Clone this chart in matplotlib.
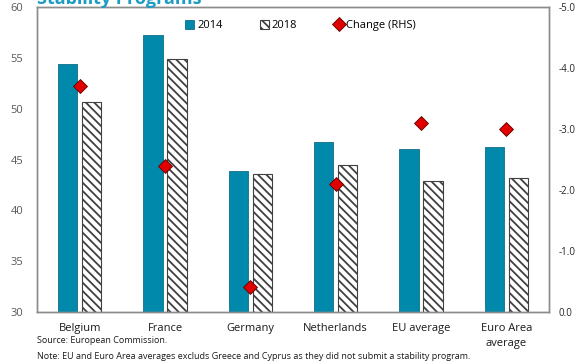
import numpy as np
import matplotlib.pyplot as plt

plt.rcParams['font.family'] = ['Open Sans', 'DejaVu Sans']
plt.rcParams['hatch.linewidth'] = 1.3

# Werte
laender = ["Belgium", "France", "Germany", "Netherlands", "EU average", "Euro Area\naverage"]
werte_2014 = [54.4, 57.3, 43.9, 46.7, 46.0, 46.2]
werte_2018 = [50.7, 54.9, 43.6, 44.5, 42.9, 43.2]
aenderung = [-3.7, -2.4, -0.4, -2.1, -3.1, -3.0]

teal = "#0089aa"
grau = "#595959"

fig = plt.figure(figsize=(5.81, 3.62), dpi=100)
ax = fig.add_axes([37 / 581, 1 - 311.7 / 362, 512 / 581, 304.4 / 362])
ax2 = ax.twinx()

x = np.arange(len(laender))
breite = 0.225

b1 = ax.bar(x - 0.14, werte_2014, breite, color=teal, edgecolor="#0f6f86", linewidth=0.6,
            label="2014", zorder=2)
b2 = ax.bar(x + 0.14, werte_2018, breite, color="white", edgecolor="#404040", hatch="\\\\\\\\",
            linewidth=0.8, label="2018", zorder=2)
d, = ax2.plot(x, aenderung, linestyle="none", marker="D", markersize=7.5, color="#e00000",
              markeredgecolor="#600000", markeredgewidth=0.6, label="Change (RHS)", zorder=3)

# linke Achse
ax.set_ylim(30, 60)
ax.set_yticks(np.arange(30, 61, 5))
ax.set_xlim(-0.5, len(laender) - 0.5)
ax.set_xticks(x)
ax.set_xticklabels(laender, fontsize=8, color="#1a1a1a", linespacing=1.5)
ax.tick_params(axis="y", length=0, labelsize=8, labelcolor=grau, pad=10)
ax.tick_params(axis="x", length=0, pad=8)

# rechte Achse (umgedreht)
ax2.set_ylim(0, -5)
ax2.set_yticks(np.arange(0, -5.1, -1))
ax2.set_yticklabels(["%.1f" % v for v in np.arange(0, -5.1, -1)])
ax2.tick_params(axis="y", length=0, labelsize=7, labelcolor="#262626", pad=7)

for a in (ax, ax2):
    for s in a.spines.values():
        s.set_color("#8c8c8c")
        s.set_linewidth(1.0)

ax.legend(handles=[b1, b2, d], loc="upper center", bbox_to_anchor=(0.515, 0.99), ncol=3, frameon=False,
          fontsize=8, handlelength=0.8, handleheight=0.8, handletextpad=0.3, columnspacing=3.3)

# Titel (oben abgeschnitten)
fig.text(37 / 581, 1 - 4 / 362, "Stability Programs", fontsize=13, fontweight="bold", color="#1b9cc2",
         ha="left", va="baseline")

fig.text(37 / 581, 1 - 343 / 362, "Source: European Commission.", fontsize=6.5, color="#1a1a1a")
fig.text(37 / 581, 1 - 359 / 362,
         "Note: EU and Euro Area averages excluds Greece and Cyprus as they did not submit a stability program.",
         fontsize=6.5, color="#1a1a1a")

fig.savefig("out.png", dpi=100)
